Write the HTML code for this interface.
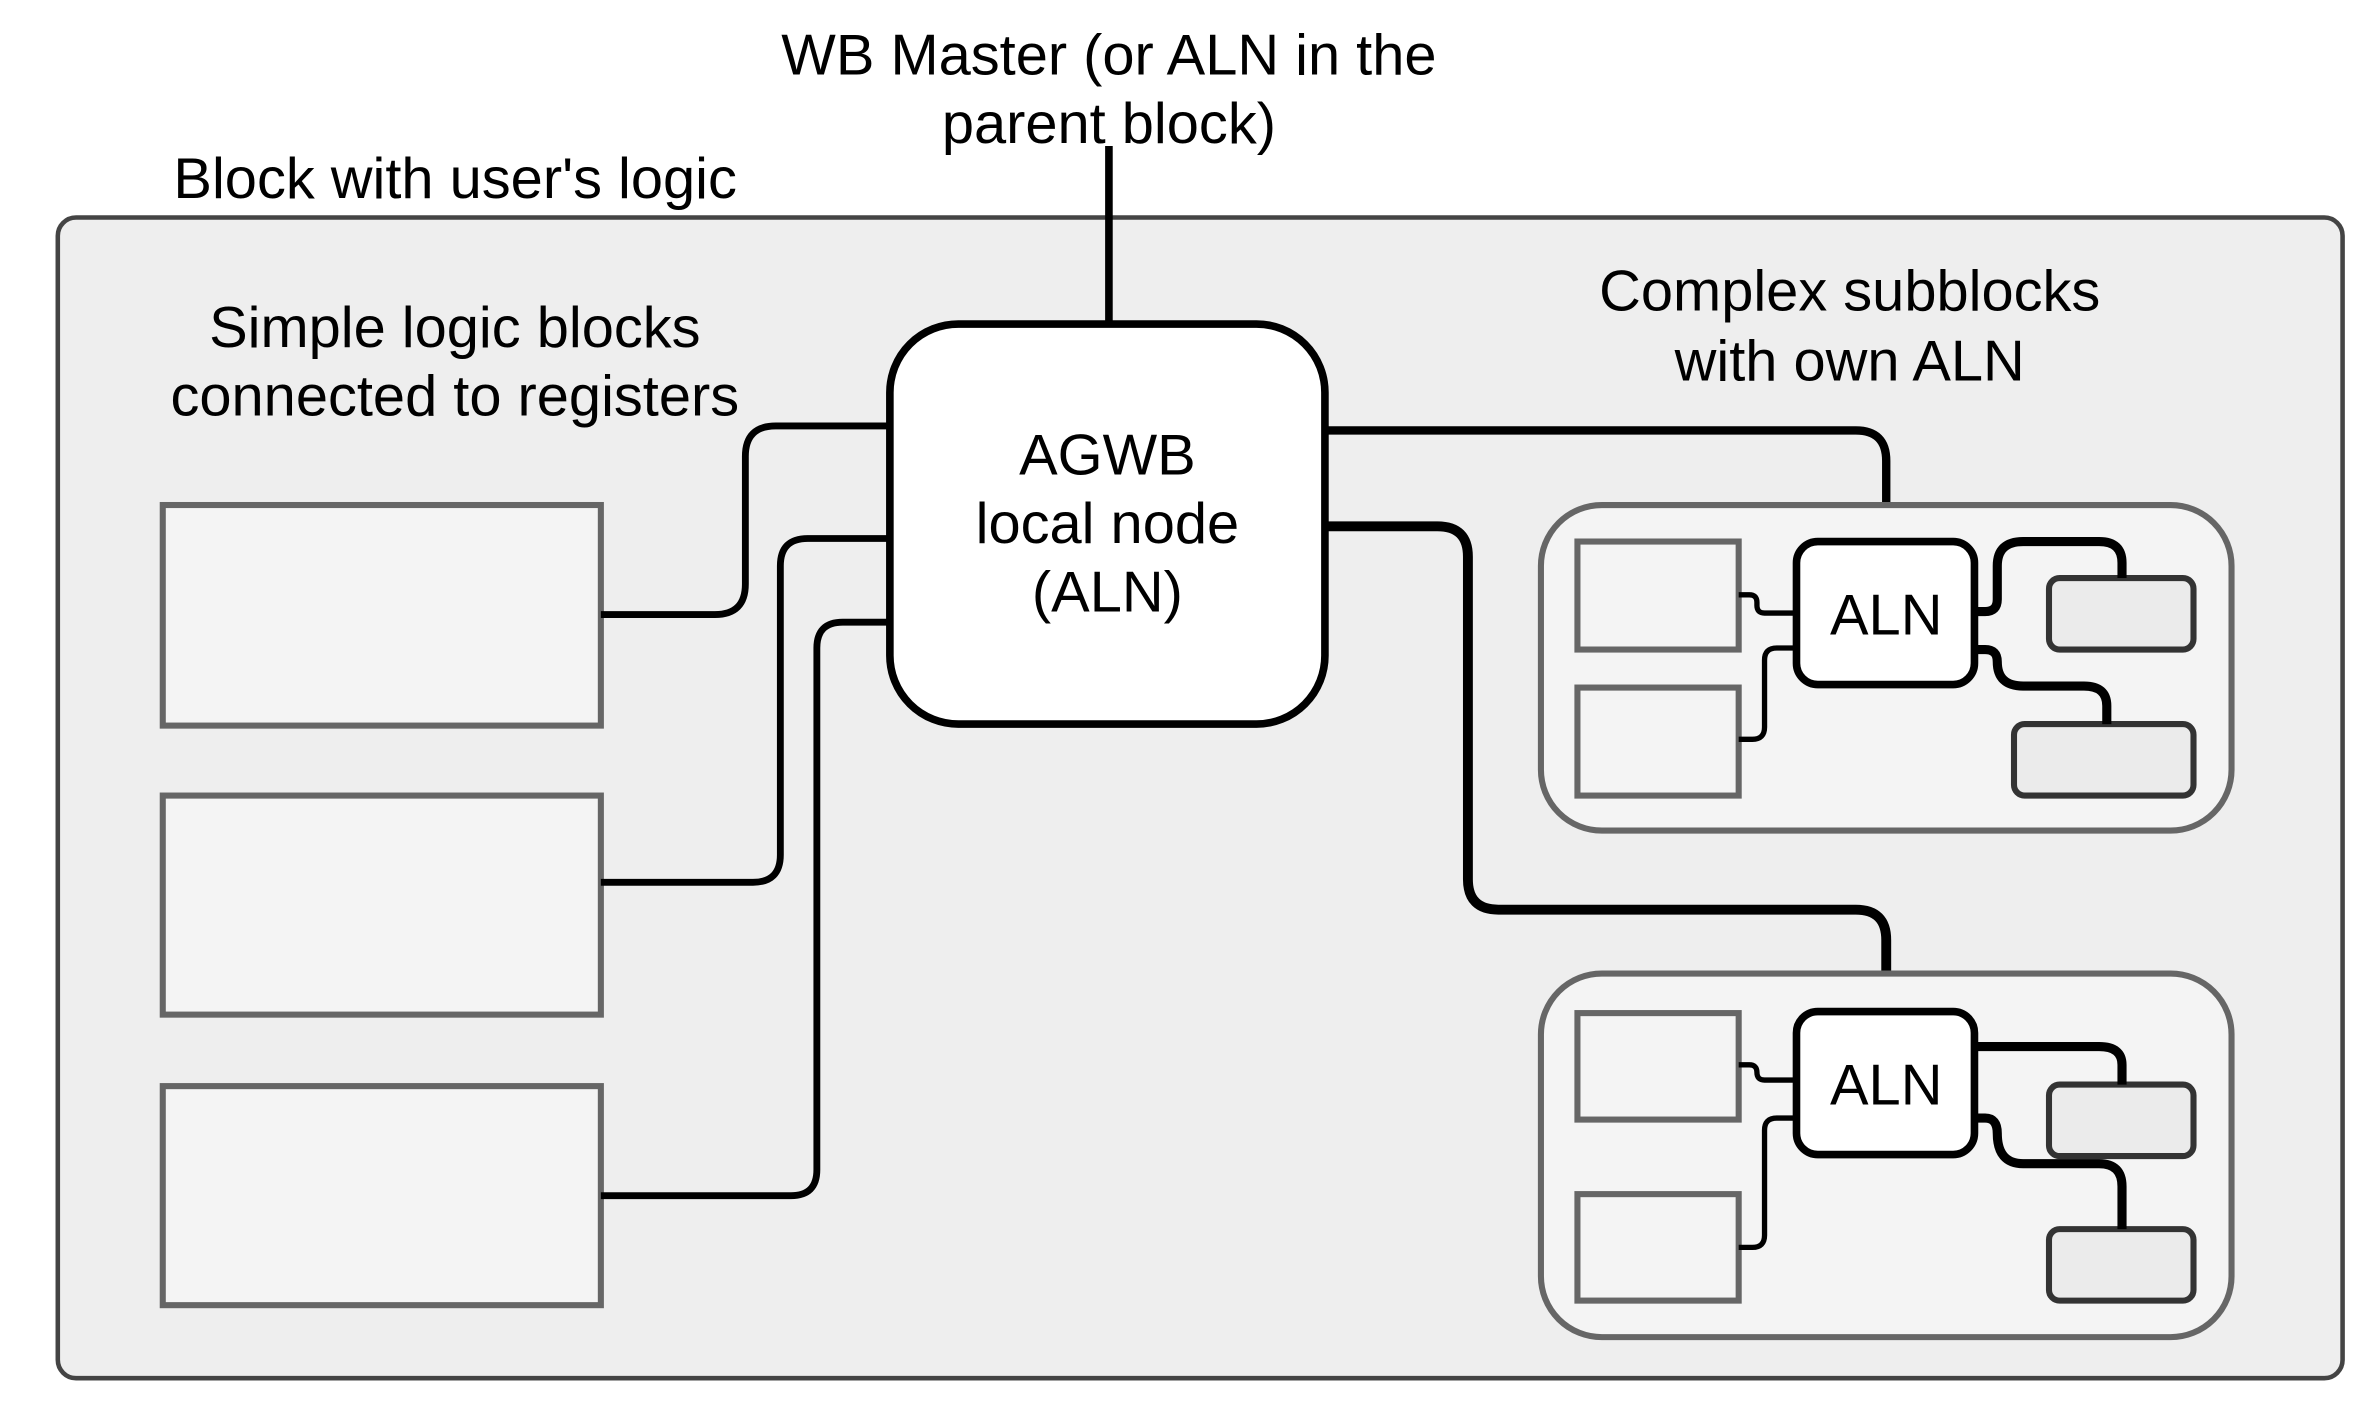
<!DOCTYPE html>
<html><head><meta charset="utf-8"><style>html,body{margin:0;padding:0;background:#fff}svg{display:block}</style></head>
<body>
<svg width="2373" height="1408" viewBox="0 0 1560 925.6" preserveAspectRatio="none" xmlns="http://www.w3.org/2000/svg" font-family="Liberation Sans, Arial, sans-serif" font-size="38">
<rect x="38" y="143" width="1502" height="763" rx="12" fill="#eeeeee" stroke="#444" stroke-width="3"/>
<text x="114" y="130">Block with user's logic</text>
<text x="729" y="49" text-anchor="middle">WB Master (or ALN in the</text>
<text x="729" y="94" text-anchor="middle">parent block)</text>
<text x="299" y="228" text-anchor="middle">Simple logic blocks</text>
<text x="299" y="273" text-anchor="middle">connected to registers</text>
<text x="1216" y="204" text-anchor="middle">Complex subblocks</text>
<text x="1216" y="250" text-anchor="middle">with own ALN</text>
<line x1="729" y1="96" x2="729" y2="214" stroke="#000" stroke-width="5"/>
<g fill="#f4f4f4" stroke="#666" stroke-width="4">
<rect x="107" y="332" width="288" height="145"/>
<rect x="107" y="523" width="288" height="144"/>
<rect x="107" y="714" width="288" height="144"/>
</g>
<g fill="none" stroke="#000" stroke-width="4.5">
<path d="M395 404 H470 Q490 404 490 384 V300 Q490 280 510 280 H586"/>
<path d="M395 580 H495 Q513 580 513 562 V372 Q513 354 531 354 H586"/>
<path d="M395 786 H520 Q537 786 537 769 V426 Q537 409 554 409 H586"/>
<path d="M870 283 H1220 Q1240 283 1240 303 V356" stroke-width="5.5"/>
<path d="M870 346 H945 Q965 346 965 366 V578 Q965 598 985 598 H1220 Q1240 598 1240 618 V665" stroke-width="6.5"/>
</g>
<rect x="585" y="213" width="286" height="263" rx="45" fill="#fff" stroke="#000" stroke-width="5"/>
<text x="728" y="312" text-anchor="middle">AGWB</text>
<text x="728" y="357" text-anchor="middle">local node</text>
<text x="728" y="402" text-anchor="middle">(ALN)</text>
<g fill="#f4f4f4" stroke="#666" stroke-width="4">
<rect x="1013" y="332" width="454" height="214" rx="40"/>
<rect x="1013" y="640" width="454" height="239" rx="40"/>
<rect x="1037" y="356" width="106" height="71"/>
<rect x="1037" y="452" width="106" height="71"/>
<rect x="1037" y="666" width="106" height="70"/>
<rect x="1037" y="785" width="106" height="70"/>
</g>
<g fill="#ebebeb" stroke="#333" stroke-width="4">
<rect x="1347" y="380" width="95" height="47" rx="7"/>
<rect x="1324" y="476" width="118" height="47" rx="7"/>
<rect x="1347" y="713" width="95" height="47" rx="7"/>
<rect x="1347" y="808" width="95" height="47" rx="7"/>
</g>
<g fill="none" stroke="#000" stroke-width="3.5">
<path d="M1143 391 H1150 Q1155 391 1155 396 V398 Q1155 403 1160 403 H1180"/>
<path d="M1143 486 H1152 Q1160 486 1160 478 V434 Q1160 426 1168 426 H1180"/>
<path d="M1143 700 H1150 Q1155 700 1155 705 V705 Q1155 710 1160 710 H1180"/>
<path d="M1143 820 H1152 Q1160 820 1160 812 V743 Q1160 735 1168 735 H1180"/>
</g>
<g fill="none" stroke="#000" stroke-width="6">
<path d="M1296 402 H1305 Q1313 402 1313 394 V372 Q1313 356 1330 356 H1380 Q1395 356 1395 370 V380"/>
<path d="M1296 427 H1305 Q1313 427 1313 435 Q1313 451 1330 451 H1370 Q1385 451 1385 464 V476"/>
<path d="M1296 688 H1380 Q1395 688 1395 700 V713"/>
<path d="M1296 735 H1305 Q1313 735 1313 745 Q1313 765 1330 765 H1380 Q1395 765 1395 780 V808"/>
</g>
<g fill="#fff" stroke="#000" stroke-width="5">
<rect x="1181" y="356" width="117" height="94" rx="14"/>
<rect x="1181" y="665" width="117" height="94" rx="14"/>
</g>
<text x="1240" y="417" text-anchor="middle" font-size="38">ALN</text>
<text x="1240" y="726" text-anchor="middle" font-size="38">ALN</text>
</svg>
</body></html>
